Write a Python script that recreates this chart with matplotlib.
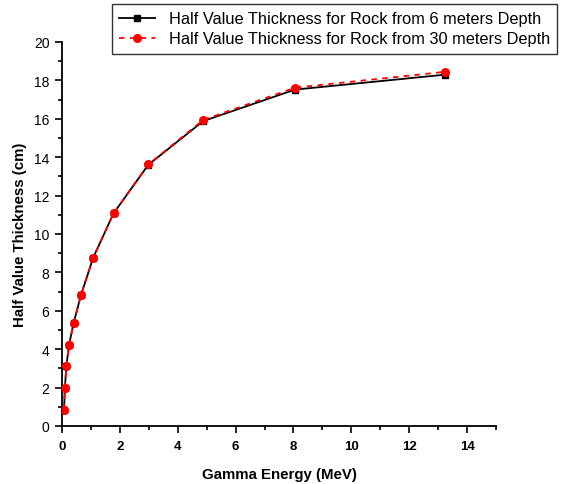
import numpy as np
import matplotlib
matplotlib.use('Agg')
from matplotlib import pyplot as plt
from matplotlib.ticker import MultipleLocator

plt.rcParams['font.family'] = ['Liberation Sans', 'DejaVu Sans']

# gamma energies (MeV)
energy = [0.07, 0.10, 0.15, 0.24, 0.40, 0.66, 1.08, 1.78, 2.98, 4.88, 8.05, 13.25]
# half value thickness (cm)
hvt_6m = [0.85, 1.98, 3.10, 4.20, 5.36, 6.84, 8.77, 11.07, 13.60, 15.88, 17.52, 18.30]
hvt_30m = [0.85, 1.98, 3.10, 4.20, 5.36, 6.84, 8.77, 11.08, 13.62, 15.94, 17.62, 18.45]

label_6m = 'Half Value Thickness for Rock from 6 meters Depth'
label_30m = 'Half Value Thickness for Rock from 30 meters Depth'

fig = plt.figure(figsize=(5.71, 4.85), dpi=100)
ax = fig.add_axes([62/571, 1-427/485, (496-62)/571, (427-43)/485])

ax.plot(energy, hvt_6m, color='black', lw=1.3, marker='s', ms=5,
        mfc='black', mec='black', label=label_6m, zorder=2)
ax.plot(energy, hvt_30m, color='red', lw=1.3, ls=(0, (3, 3)), marker='o', ms=5.5,
        mfc='red', mec='red', label=label_30m, zorder=3)

ax.set_xlim(0, 15)
ax.set_ylim(0, 20)
ax.xaxis.set_major_locator(MultipleLocator(2))
ax.xaxis.set_minor_locator(MultipleLocator(1))
ax.yaxis.set_major_locator(MultipleLocator(2))
ax.yaxis.set_minor_locator(MultipleLocator(1))
ax.set_xticks([0, 2, 4, 6, 8, 10, 12, 14])

for s in ['top', 'right']:
    ax.spines[s].set_visible(False)
for s in ['left', 'bottom']:
    ax.spines[s].set_linewidth(1.3)

ax.tick_params(which='major', direction='out', length=5, width=1.2)
ax.tick_params(which='minor', direction='out', length=3, width=1.2)
ax.tick_params(axis='y', labelsize=10, pad=4)
ax.tick_params(axis='x', labelsize=9.5, pad=5)
for t in ax.get_xticklabels():
    t.set_fontweight('bold')

ax.set_xlabel('Gamma Energy (MeV)', fontsize=10.8, fontweight='bold', labelpad=11)
ax.set_ylabel('Half Value Thickness (cm)', fontsize=10.8, fontweight='bold', labelpad=5)

leg = fig.legend(loc='upper left', bbox_to_anchor=(112/571, 1-5/485), fontsize=11.8,
                 frameon=True, fancybox=False, borderpad=0.45, handlelength=2.2,
                 handletextpad=0.8, labelspacing=0.3, borderaxespad=0)
leg.get_frame().set_edgecolor('black')
leg.get_frame().set_linewidth(1.0)

fig.savefig('out.png', dpi=100)
